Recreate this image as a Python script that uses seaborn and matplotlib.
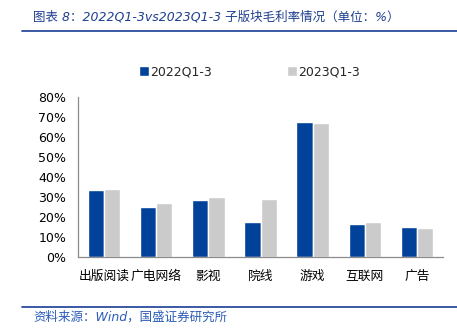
import matplotlib
matplotlib.use("Agg")
import matplotlib.pyplot as plt
from matplotlib.lines import Line2D
from matplotlib.ticker import FixedLocator, FuncFormatter
import seaborn as sns
import pandas as pd

# Gross margin by sub-sector (%)
sectors = ["出版阅读", "广电网络", "影视", "院线", "游戏", "互联网", "广告"]
margin_2022 = [33.3, 25.0, 28.4, 17.6, 67.3, 16.3, 14.8]
margin_2023 = [33.8, 26.9, 29.7, 28.9, 66.7, 17.6, 14.3]
periods = ["2022Q1-3", "2023Q1-3"]

df = pd.DataFrame({
    "sector": sectors * 2,
    "period": [periods[0]] * len(sectors) + [periods[1]] * len(sectors),
    "margin": [v / 100 for v in margin_2022 + margin_2023],
})

sns.set_style("white")
plt.rcParams["font.family"] = ["DejaVu Sans", "Noto Sans CJK SC"]

W, H = 457, 330
fig = plt.figure(figsize=(W / 100, H / 100), dpi=100)
ax = fig.add_axes([78 / W, 1 - 257 / H, (443 - 78) / W, (257 - 96.7) / H])

blue, gray = "#00419A", "#CBCBCB"
sns.barplot(data=df, x="sector", y="margin", hue="period",
            palette=[blue, gray], width=0.62, gap=0, ax=ax,
            saturation=1, legend=True)

ax.set_ylim(0, 0.8)
ax.set_xlim(-0.5, len(sectors) - 0.5)
ax.set_yticks([i / 10 for i in range(9)])
ax.yaxis.set_major_formatter(FuncFormatter(lambda v, _: f"{v * 100:.0f}%"))
ax.set_xlabel("")
ax.set_ylabel("")

axis_color = "#8C8C8C"
for side in ["top", "right"]:
    ax.spines[side].set_visible(False)
for side in ["left", "bottom"]:
    ax.spines[side].set_color(axis_color)
    ax.spines[side].set_linewidth(0.9)

ax.tick_params(axis="y", which="major", direction="in", length=3,
               color=axis_color, labelsize=9, pad=8.5, labelcolor="#000000")
ax.tick_params(axis="x", which="major", length=0, pad=9.5)
ax.xaxis.set_minor_locator(FixedLocator([i + 0.5 for i in range(len(sectors))]))
ax.tick_params(axis="x", which="minor", direction="in", length=4,
               color=axis_color)
for lbl in ax.get_xticklabels():
    lbl.set_fontfamily(["Noto Sans CJK SC"])
    lbl.set_fontsize(9.2)
    lbl.set_color("#000000")

# Legend above the plot
handles, labels = ax.get_legend_handles_labels()
ax.legend(handles, labels, loc="center left", bbox_to_anchor=(0.168, 1.155),
          ncol=2, frameon=False, fontsize=9, handlelength=0.75,
          handleheight=0.75, handletextpad=0.15, columnspacing=6.0,
          borderaxespad=0, borderpad=0)

# Header and footer
title_color = "#1E3E8E"
fig.text(33 / W, 1 - 17 / H,
         "图表 8：2022Q1-3vs2023Q1-3 子版块毛利率情况（单位：%）",
         fontsize=9, color=title_color, style="italic",
         family=["DejaVu Sans", "Noto Sans CJK SC"], va="center", ha="left")
fig.add_artist(Line2D([22 / W, 1], [1 - 31 / H, 1 - 31 / H],
                      transform=fig.transFigure, color="#2A4C9C", lw=1.3))
fig.add_artist(Line2D([22 / W, 1], [1 - 307 / H, 1 - 307 / H],
                      transform=fig.transFigure, color="#2A4C9C", lw=1.3))
fig.text(33 / W, 1 - 317 / H, "资料来源：Wind，国盛证券研究所",
         fontsize=9, color="#2A5CB8", style="italic",
         family=["DejaVu Sans", "Noto Sans CJK SC"], va="center", ha="left")

fig.savefig("out.png", dpi=100)
